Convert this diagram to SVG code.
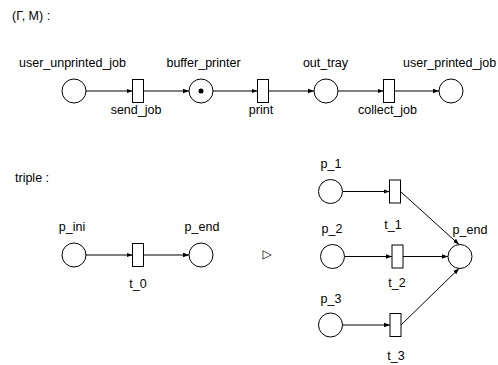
<svg xmlns="http://www.w3.org/2000/svg" width="498" height="365" viewBox="0 0 498 365">
<style>
.pl{fill:#fff;stroke:#000;stroke-width:1}
.tr{fill:#fff;stroke:#000;stroke-width:1}
.lb{font-family:"Liberation Sans",Arial,sans-serif;font-size:12.5px;fill:#000;text-anchor:middle}
.hd{font-family:"Liberation Sans",Arial,sans-serif;font-size:12.5px;fill:#000}
.ar{fill:none;stroke:#000;stroke-width:1;marker-end:url(#ah)}
</style>
<defs>
<marker id="ah" viewBox="0 0 6 6" refX="6" refY="3" markerWidth="6" markerHeight="6" markerUnits="userSpaceOnUse" orient="auto">
<path d="M0,0.8 L6,3 L0,5.2 Z" fill="#000"/>
</marker>
</defs>
<rect width="498" height="365" fill="#fff"/>
<text class="hd" x="12" y="20">(Γ, M) :</text>
<text class="hd" x="15" y="182">triple :</text>
<text x="267" y="258" fill="#000" font-family="DejaVu Sans,sans-serif" font-size="12" text-anchor="middle">▷</text>

<g id="connectors">
<line class="ar" x1="86" y1="91" x2="132.5" y2="91"/>
<line class="ar" x1="143.5" y1="91" x2="189" y2="91"/>
<line class="ar" x1="213" y1="91" x2="257.5" y2="91"/>
<line class="ar" x1="268.5" y1="91" x2="314" y2="91"/>
<line class="ar" x1="338" y1="91" x2="383.5" y2="91"/>
<line class="ar" x1="394.5" y1="91" x2="439" y2="91"/>
<line class="ar" x1="86" y1="255" x2="132.5" y2="255"/>
<line class="ar" x1="143.5" y1="255" x2="189" y2="255"/>
<line class="ar" x1="342.5" y1="191.5" x2="389.5" y2="191.5"/>
<line class="ar" x1="344.5" y1="256.5" x2="392" y2="256.5"/>
<line class="ar" x1="342.5" y1="325" x2="390" y2="325"/>
<line class="ar" x1="400.5" y1="191.5" x2="459" y2="244.5"/>
<line class="ar" x1="403" y1="256.5" x2="448" y2="256.5"/>
<line class="ar" x1="401" y1="325" x2="459" y2="268.5"/>
</g>

<g id="user_unprinted_job"><circle class="pl" cx="74" cy="91" r="12"/><text class="lb" x="72.5" y="67">user_unprinted_job</text></g>
<g id="send_job"><rect class="tr" x="132.5" y="79.5" width="11" height="23"/><text class="lb" x="136" y="114">send_job</text></g>
<g id="buffer_printer"><circle class="pl" cx="201" cy="91" r="12"/><circle cx="201" cy="91" r="2.5" fill="#000"/><text class="lb" x="203.5" y="67">buffer_printer</text></g>
<g id="print"><rect class="tr" x="257.5" y="79.5" width="11" height="23"/><text class="lb" x="261" y="114">print</text></g>
<g id="out_tray"><circle class="pl" cx="326" cy="91" r="12"/><text class="lb" x="325.5" y="67">out_tray</text></g>
<g id="collect_job"><rect class="tr" x="383.5" y="79.5" width="11" height="23"/><text class="lb" x="387.5" y="114">collect_job</text></g>
<g id="user_printed_job"><circle class="pl" cx="451" cy="91" r="12"/><text class="lb" x="403" y="67" style="text-anchor:start">user_printed_job</text></g>

<g id="p_ini"><circle class="pl" cx="74" cy="255" r="12"/><text class="lb" x="72" y="231">p_ini</text></g>
<g id="t_0"><rect class="tr" x="132.5" y="243.5" width="11" height="23"/><text class="lb" x="138" y="288">t_0</text></g>
<g id="p_end_left"><circle class="pl" cx="201" cy="255" r="12"/><text class="lb" x="202" y="231">p_end</text></g>

<g id="p_1"><circle class="pl" cx="330.5" cy="191.5" r="12"/><text class="lb" x="331" y="168">p_1</text></g>
<g id="t_1"><rect class="tr" x="389.5" y="180" width="11" height="23"/><text class="lb" x="393" y="229">t_1</text></g>
<g id="p_2"><circle class="pl" cx="332.5" cy="256.5" r="12"/><text class="lb" x="332" y="233">p_2</text></g>
<g id="t_2"><rect class="tr" x="392" y="245" width="11" height="23"/><text class="lb" x="397" y="287">t_2</text></g>
<g id="p_3"><circle class="pl" cx="330.5" cy="325" r="12"/><text class="lb" x="331" y="303">p_3</text></g>
<g id="t_3"><rect class="tr" x="390" y="313.5" width="11" height="23"/><text class="lb" x="396" y="360">t_3</text></g>
<g id="p_end_right"><circle class="pl" cx="460" cy="256.5" r="12"/><text class="lb" x="470" y="234">p_end</text></g>
</svg>
